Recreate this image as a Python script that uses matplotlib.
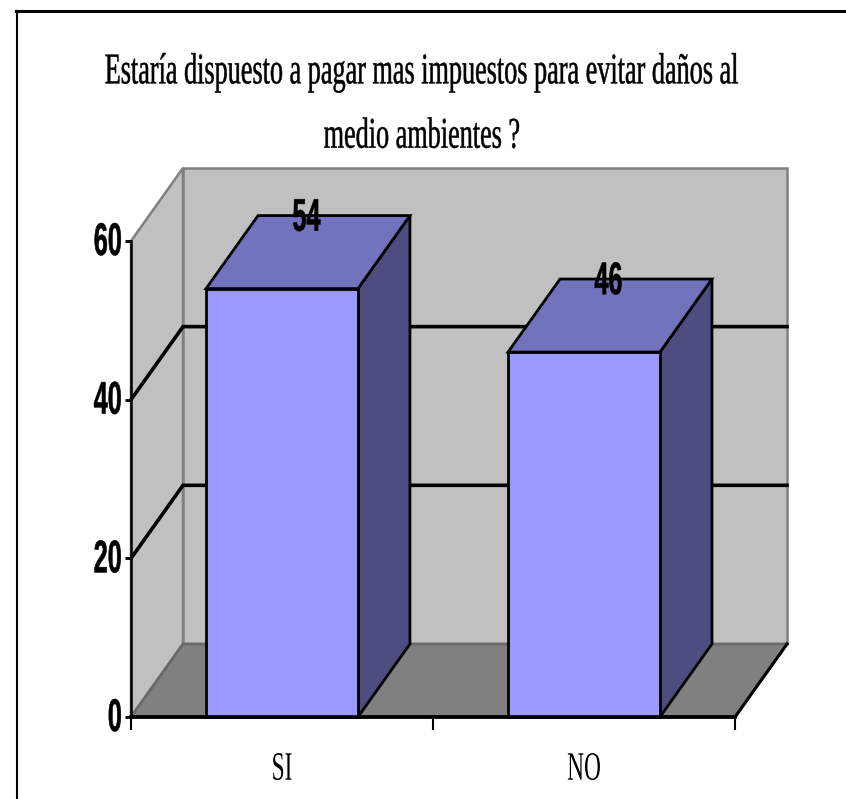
import matplotlib
matplotlib.use("Agg")
import matplotlib.pyplot as plt
from matplotlib.lines import Line2D
from matplotlib.patheffects import AbstractPathEffect
from matplotlib.transforms import Affine2D

categories = ["SI", "NO"]
values = [54, 46]
y_ticks = [0, 20, 40, 60]
title = "Estaría dispuesto a pagar mas impuestos para evitar daños al\nmedio ambientes ?"

W, H = 846, 799
DX = 52 / 302   # depth of the 3d box, in category units
DY = 73 / 7.93  # depth of the 3d box, in value units
BAR_W = 0.503

WALL = "#C0C0C0"
FLOOR = "#808080"
EDGE = "#808080"
FRONT = "#9999FF"
TOP = "#7373BD"
SIDE = "#4D4D80"


class Squeeze(AbstractPathEffect):
    """Draw text narrower and taller than the font, about a fixed pixel column."""
    def __init__(self, sx, x0, sy=1.0, stroke=0.0, rise=0.0):
        super().__init__()
        self.sx = sx
        self.sy = sy
        self.x0 = x0
        self.stroke = stroke
        self.rise = rise

    def draw_path(self, renderer, gc, tpath, affine, rgbFace=None):
        squeeze = Affine2D().translate(-self.x0, 0).scale(self.sx, 1).translate(self.x0, self.rise)
        gc.set_linewidth(self.stroke)
        renderer.draw_path(gc, tpath, Affine2D().scale(1, self.sy) + affine + squeeze, rgbFace)


def poly(ax, pts, color, edge="black", lw=2.0, z=1):
    xs = [p[0] for p in pts]
    ys = [p[1] for p in pts]
    ax.fill(xs, ys, facecolor=color, edgecolor=edge, linewidth=lw, zorder=z,
            clip_on=False, joinstyle="miter")


fig = plt.figure(figsize=(W / 100, H / 100), dpi=100)
ax = fig.add_axes([131 / W, 1 - 717 / H, 604 / W, 476 / H])
ax.set_xlim(0, 2)
ax.set_ylim(0, 60)
ax.patch.set_visible(False)

top = y_ticks[-1]
# side wall, back wall, floor
poly(ax, [(0, 0), (DX, DY), (DX, top + DY), (0, top)], WALL, EDGE, 1.8, 1)
poly(ax, [(DX, DY), (2 + DX, DY), (2 + DX, top + DY), (DX, top + DY)], WALL, EDGE, 1.8, 1)
poly(ax, [(0, 0), (DX, DY), (2 + DX, DY), (2, 0)], FLOOR, "#696969", 2.0, 2)

# gridlines wrap round the walls
for v in y_ticks[1:-1]:
    ax.plot([0, DX, 2 + DX], [v, v + DY, v + DY], color="black", lw=2.6, zorder=3,
            clip_on=False, solid_joinstyle="miter")

# floor front and right edges
ax.plot([0, 2, 2 + DX], [0, 0, DY], color="black", lw=2.2, zorder=4, clip_on=False)

for i, v in enumerate(values):
    c = i + 0.5
    l, r = c - BAR_W / 2, c + BAR_W / 2
    poly(ax, [(r, 0), (r + DX, DY), (r + DX, v + DY), (r, v)], SIDE, z=5)
    poly(ax, [(l, v), (r, v), (r + DX, v + DY), (l + DX, v + DY)], TOP, z=5)
    poly(ax, [(l, 0), (r, 0), (r, v), (l, v)], FRONT, z=6)
    t = ax.text(c + DX / 2 - 0.005, v + DY - 0.4, str(v), ha="center", va="center", zorder=7,
                family="Liberation Sans", weight="bold", fontsize=33)
    t.set_path_effects([Squeeze(0.55, ax.transData.transform((c + DX / 2 - 0.005, 0))[0], stroke=0.4)])

for s in ["top", "right"]:
    ax.spines[s].set_visible(False)
ax.spines["left"].set_linewidth(1.8)
ax.spines["bottom"].set_linewidth(2.6)
ax.spines["left"].set_zorder(8)
ax.spines["bottom"].set_zorder(8)

ax.set_yticks(y_ticks)
ax.tick_params(axis="y", length=4.5, width=2, pad=1.5)
for lab in ax.get_yticklabels():
    lab.set_family("Liberation Sans")
    lab.set_weight("bold")
    lab.set_fontsize(33)
    lab.set_path_effects([Squeeze(0.55, 121, stroke=0.4, rise=3)])

ax.set_xticks([0, 1, 2])
ax.set_xticklabels([])
ax.set_xticks([0.5, 1.5], minor=True)
ax.set_xticklabels(categories, minor=True, family="Liberation Serif", fontsize=29)
ax.tick_params(axis="x", which="major", length=9, width=1.5)
ax.tick_params(axis="x", which="minor", length=0, pad=25)
for i, lab in enumerate(ax.get_xticklabels(minor=True)):
    lab.set_path_effects([Squeeze(0.58, ax.transData.transform((i + 0.5, 0))[0])])

# set small so it fits the figure, then drawn at the reference's proportions
ttl = fig.text(422 / W, 1 - 107 / H, title, ha="center", va="center",
               family="Liberation Serif", fontsize=24, linespacing=2.44)
ttl.set_path_effects([Squeeze(0.786, 422, sy=1.31, stroke=0.35)])

# chart frame: only its top and left sides are in the picture
fig.add_artist(Line2D([16.8 / W, 16.8 / W], [0, 1 - 10.5 / H], color="black", lw=1.5))
fig.add_artist(Line2D([16 / W, 1], [1 - 10.5 / H, 1 - 10.5 / H], color="black", lw=2.2))

fig.savefig("out.png", dpi=100)
